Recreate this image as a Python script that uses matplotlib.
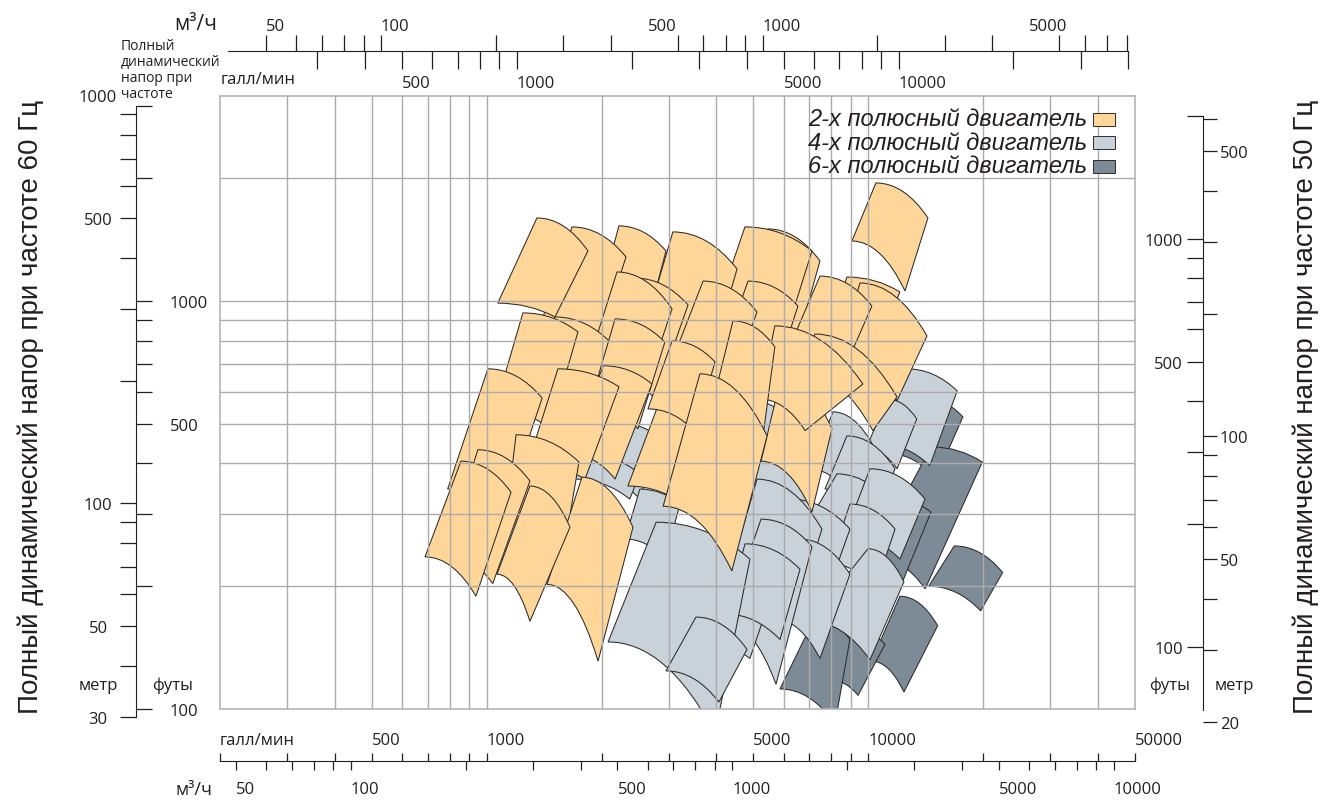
import numpy as np
import matplotlib
matplotlib.use("Agg")
import matplotlib.pyplot as plt
from matplotlib.path import Path
from matplotlib.patches import PathPatch, Rectangle
from matplotlib.ticker import FixedLocator, FuncFormatter, NullLocator

plt.rcParams["font.family"] = ["Open Sans", "DejaVu Sans"]

# pump ranges, corners: top-left, top-right, bottom-right, bottom-left
# (flow US gal/min, head ft, 60 Hz)
pumps_6pole = [
    (13300, 590, 17700, 520, 15000, 366, 11400, 422),
    (14600, 439, 19900, 403, 14100, 197, 10300, 237),
    (12250, 323, 14600, 304, 11300, 169, 9500, 186),
    (16800, 251, 22500, 216, 19700, 174, 14400, 200),
    (12100, 189, 15200, 160, 12400, 110, 10200, 131),
    (8690, 161, 11060, 144, 9400, 108, 7935, 118),
    (7250, 168, 8950, 148, 8180, 92, 5870, 112),
]
pumps_4pole = [
    (12600, 682, 17100, 602, 14500, 395, 10700, 446),
    (11200, 575, 13400, 514, 11900, 388, 9860, 434),
    (8080, 535, 10860, 399, 9630, 292, 7030, 388),
    (8790, 467, 11750, 388, 10400, 292, 7700, 346),
    (8280, 377, 12250, 292, 10100, 236, 7030, 292),
    (10100, 388, 14080, 327, 12107, 233, 8690, 268),
    (8953, 318, 11750, 276, 10410, 197, 7935, 227),
    (9980, 247, 12400, 205, 10100, 132, 7030, 164),
    (4750, 575, 6230, 514, 5520, 388, 4340, 434),
    (5200, 422, 7250, 366, 6230, 254, 4610, 292),
    (6233, 327, 8953, 276, 7700, 186, 5524, 214),
    (5110, 366, 7560, 276, 6620, 186, 4480, 240),
    (6620, 261, 8950, 214, 7470, 133, 5700, 166),
    (5235, 292, 7120, 250, 5730, 115, 4215, 163),
    (4087, 233, 5695, 202, 4896, 133, 3515, 148),
    (4754, 254, 6623, 220, 5870, 148, 4215, 171),
    (2300, 500, 2845, 459, 2520, 327, 1980, 366),
    (1810, 422, 2520, 377, 2370, 327, 1700, 366),
    (2520, 346, 3210, 318, 2933, 233, 2304, 261),
    (2780, 287, 4896, 233, 3965, 87, 2080, 146),
    (3535, 168, 4810, 140, 4060, 104, 2950, 124),
]
pumps_2pole = [
    (10470, 1947, 14330, 1598, 12480, 1058, 9060, 1403),
    (5460, 1502, 7470, 1254, 6233, 682, 4475, 807),
    (4750, 1519, 7120, 1326, 5695, 682, 3734, 785),
    (3075, 1477, 4530, 1198, 3734, 644, 2522, 785),
    (2220, 1528, 2950, 1326, 2448, 682, 1842, 785),
    (1673, 1519, 2318, 1282, 1865, 682, 1347, 807),
    (1354, 1598, 1842, 1326, 1510, 914, 1069, 988),
    (8790, 1145, 12100, 1052, 11260, 894, 8320, 978),
    (9510, 1107, 14250, 821, 11890, 569, 8430, 754),
    (7470, 1151, 10220, 972, 8840, 713, 6430, 830),
    (4840, 1119, 6540, 972, 5365, 544, 3892, 626),
    (3690, 1119, 5110, 940, 4136, 544, 2933, 644),
    (2450, 1138, 3370, 978, 2761, 575, 1982, 682),
    (2195, 1178, 3060, 956, 2522, 559, 1810, 663),
    (1510, 914, 2130, 785, 1756, 459, 1237, 529),
    (1244, 935, 1734, 840, 1465, 486, 1051, 544),
    (7250, 830, 11890, 582, 10280, 481, 6620, 674),
    (5900, 648, 8030, 486, 7120, 304, 5235, 405),
    (5690, 869, 9680, 626, 6830, 481, 5200, 575),
    (4420, 894, 5690, 772, 5203, 410, 3734, 472),
    (3075, 694, 4215, 599, 3410, 309, 2345, 352),
    (3060, 798, 3965, 709, 3515, 478, 2645, 544),
    (2170, 904, 2930, 793, 2490, 486, 1865, 559),
    (3620, 663, 5430, 467, 4390, 218, 2900, 314),
    (2020, 694, 2710, 626, 2170, 366, 1653, 422),
    (1537, 682, 2222, 616, 1810, 366, 1282, 399),
    (1007, 682, 1397, 578, 1097, 294, 790, 346),
    (1194, 470, 1745, 403, 1604, 254, 1118, 284),
    (1777, 370, 2417, 279, 1958, 131, 1439, 202),
    (1298, 352, 1653, 279, 1298, 164, 1064, 214),
    (948, 432, 1298, 362, 1037, 203, 777, 240),
    (856, 405, 1158, 340, 937, 189, 689, 236),
]

legend_labels = ["2-х полюсный двигатель", "4-х полюсный двигатель", "6-х полюсный двигатель"]

# scales
gpm_grid = [300, 400, 500, 600, 700, 800, 900, 1000, 2000, 3000, 4000, 5000,
            6000, 7000, 8000, 9000, 10000, 20000, 30000, 40000]
ft_grid = [200, 300, 400, 500, 600, 700, 800, 900, 1000, 2000]

gal_ticks_bottom = [200] + gpm_grid + [50000]
gal_labels_bottom = {200: "галл/мин", 500: "500", 1000: "1000", 5000: "5000",
                     10000: "10000", 50000: "50000"}
m3h_ticks_bottom = [50, 60, 70, 80, 90, 100, 200, 300, 400, 500, 600, 700, 800, 900,
                    1000, 2000, 3000, 4000, 5000, 6000, 7000, 8000, 9000, 10000]
m3h_labels_bottom = {50: "50", 100: "100", 500: "500", 1000: "1000", 5000: "5000",
                     10000: "10000"}
gal_ticks_top = gpm_grid
gal_labels_top = {500: "500", 1000: "1000", 5000: "5000", 10000: "10000"}
m3h_ticks_top = [50, 60, 70, 80, 90, 100, 200, 300, 400, 500, 600, 700, 800, 900,
                 1000, 2000, 3000, 4000, 5000, 6000, 7000, 8000, 9000]
m3h_labels_top = {50: "50", 100: "100", 500: "500", 1000: "1000", 5000: "5000"}
ft_ticks_left = [100, 200, 300, 400, 500, 600, 700, 800, 900, 1000, 2000, 3000]
ft_ticks_right = [100, 200, 300, 400, 500, 600, 700, 800, 900, 1000, 2000]
ft_labels = {100: "100", 500: "500", 1000: "1000"}
m_ticks_left = [30, 40, 50, 60, 70, 80, 90, 100, 200, 300, 400, 500, 600, 700, 800, 900, 1000]
m_labels_left = {30: "30", 50: "50", 100: "100", 500: "500", 1000: "1000"}
m_ticks_right = [20, 30, 40, 50, 60, 70, 80, 90, 100, 200, 300, 400, 500, 600]
m_labels_right = {20: "20", 50: "50", 100: "100", 500: "500"}

GPM_PER_M3H = 4.403
FT_PER_M = 3.281
FT_PER_M_LEFT = 3.19     # as drawn on the left scale
FLOW_50 = 1.2            # 60 Hz flow / 50 Hz flow
HEAD_50 = 1.42           # 60 Hz head / 50 Hz head, as drawn
GPM_MIN, GPM_MAX = 200, 50000
FT_MIN, FT_MAX = 100, 3180

C2, C4, C6 = "#FFD699", "#C9D1D9", "#7D8B97"
EDGE = "#2b2b2b"
INK = "#231f20"
GRID = "#ababab"

W, H = 1324, 803
fig = plt.figure(figsize=(W / 100, H / 100), dpi=100)


def box(x0, y0, x1, y1):
    return [x0 / W, 1 - y1 / H, (x1 - x0) / W, (y1 - y0) / H]


def fx(x):
    return x / W


def fy(y):
    return 1 - y / H


def tile_path(p):
    q = np.array(p[0::2], float)
    h = np.array(p[1::2], float)
    lq = np.log10(q)

    def ctrl(i, j):
        return 10 ** (lq[i] + 0.55 * (lq[j] - lq[i])), h[i]

    tl, tr, br, bl = zip(q, h)
    verts = [tl, ctrl(0, 1), tr, br, ctrl(3, 2), bl, tl, tl]
    codes = [Path.MOVETO, Path.CURVE3, Path.CURVE3, Path.LINETO,
             Path.CURVE3, Path.CURVE3, Path.LINETO, Path.CLOSEPOLY]
    return Path(verts, codes)


def scale_axis(axis, ticks, labels, ha=None, hidden=()):
    axis.set_major_locator(FixedLocator(ticks))
    axis.set_minor_locator(NullLocator())
    axis.set_major_formatter(FuncFormatter(lambda v, p: labels.get(int(round(v)), "")))
    for t, v in zip(axis.get_major_ticks(len(ticks)), ticks):
        if ha:
            t.label1.set_ha(ha)
            t.label2.set_ha(ha)
        if v in hidden:
            t.tick1line.set_visible(False)
            t.tick2line.set_visible(False)


def bare(a):
    a.patch.set_visible(False)
    for s in a.spines.values():
        s.set_visible(False)


def ft_at(y):
    f = (710 - y) / (710 - 97)
    return 10 ** (np.log10(FT_MIN) + f * (np.log10(FT_MAX) - np.log10(FT_MIN)))


tick_kw = dict(direction="out", width=0.9, colors=INK, labelsize=12)

# main chart
ax = fig.add_axes(box(220, 97, 1135, 710))
ax.set_xscale("log")
ax.set_yscale("log")
ax.set_xlim(GPM_MIN, GPM_MAX)
ax.set_ylim(FT_MIN, FT_MAX)
for colour, pumps in ((C6, pumps_6pole), (C4, pumps_4pole), (C2, pumps_2pole)):
    for p in pumps:
        ax.add_patch(PathPatch(tile_path(p), facecolor=colour, edgecolor=EDGE,
                               lw=0.75, zorder=1))
ax.xaxis.set_major_locator(FixedLocator(gpm_grid))
ax.xaxis.set_minor_locator(NullLocator())
ax.yaxis.set_major_locator(FixedLocator(ft_grid))
ax.yaxis.set_minor_locator(NullLocator())
ax.tick_params(which="both", length=0, labelbottom=False, labelleft=False)
ax.grid(True, color=GRID, lw=1.0)
ax.set_axisbelow(False)
for s in ax.spines.values():
    s.set_color("#b5b5b5")
    s.set_linewidth(1.2)

# left head scale (60 Hz): feet right of the line, metres left
axl = fig.add_axes(box(136, 80, 136, 740))
axl.set_yscale("log")
axl.set_ylim(ft_at(740), ft_at(80))
bare(axl)
axl.xaxis.set_visible(False)
axl.spines["right"].set_visible(True)
axl.spines["right"].set_bounds(30 * FT_PER_M_LEFT, 3000)
axl.spines["right"].set_color(INK)
axl.yaxis.tick_right()
scale_axis(axl.yaxis, ft_ticks_left, ft_labels)
axl.tick_params(axis="y", length=11.5, pad=13, **tick_kw)
secl = axl.secondary_yaxis("left", functions=(lambda f: f / FT_PER_M_LEFT,
                                              lambda m: m * FT_PER_M_LEFT))
bare(secl)
scale_axis(secl.yaxis, m_ticks_left, m_labels_left, ha="center", hidden={1000})
secl.tick_params(axis="y", length=11.5, pad=15.8, **tick_kw)

# right head scale (50 Hz): feet left of the line, metres right
axr = fig.add_axes(box(1203, 80, 1203, 740))
axr.set_yscale("log")
axr.set_ylim(ft_at(740) / HEAD_50, ft_at(80) / HEAD_50)
bare(axr)
axr.xaxis.set_visible(False)
axr.spines["left"].set_visible(True)
axr.spines["left"].set_bounds(70, 2000)
axr.spines["left"].set_color(INK)
scale_axis(axr.yaxis, ft_ticks_right, ft_labels)
axr.tick_params(axis="y", length=11.5, pad=2.9, **tick_kw)
secr = axr.secondary_yaxis("right", functions=(lambda f: f / FT_PER_M,
                                               lambda m: m * FT_PER_M))
bare(secr)
scale_axis(secr.yaxis, m_ticks_right, m_labels_right)
secr.tick_params(axis="y", length=10, pad=2.2, **tick_kw)

# bottom flow scale (60 Hz)
axb = fig.add_axes(box(220, 762, 1135, 762))
axb.set_xscale("log")
axb.set_xlim(GPM_MIN, GPM_MAX)
bare(axb)
axb.yaxis.set_visible(False)
axb.spines["top"].set_visible(True)
axb.spines["top"].set_color(INK)
axb.xaxis.tick_top()
scale_axis(axb.xaxis, gal_ticks_bottom, gal_labels_bottom, ha="left")
axb.tick_params(axis="x", length=5.8, pad=3.6, **tick_kw)
secb = axb.secondary_xaxis("bottom", functions=(lambda g: g / GPM_PER_M3H,
                                                lambda m: m * GPM_PER_M3H))
bare(secb)
scale_axis(secb.xaxis, m3h_ticks_bottom, m3h_labels_bottom, ha="left")
secb.tick_params(axis="x", length=6.5, pad=8, **tick_kw)

# top flow scale (50 Hz)
axt = fig.add_axes(box(220, 52, 1135, 52))
axt.set_xscale("log")
axt.set_xlim(GPM_MIN / FLOW_50, GPM_MAX / FLOW_50)
bare(axt)
axt.yaxis.set_visible(False)
axt.spines["bottom"].set_visible(True)
axt.spines["bottom"].set_bounds(175, 40000)
axt.spines["bottom"].set_color(INK)
scale_axis(axt.xaxis, gal_ticks_top, gal_labels_top, ha="left")
axt.tick_params(axis="x", length=13, pad=4.3, **tick_kw)
sect = axt.secondary_xaxis("top", functions=(lambda g: g / GPM_PER_M3H,
                                             lambda m: m * GPM_PER_M3H))
bare(sect)
scale_axis(sect.xaxis, m3h_ticks_top, m3h_labels_top, ha="left", hidden={500, 5000})
sect.tick_params(axis="x", length=11.5, pad=1, **tick_kw)

# texts
big = dict(rotation=90, ha="center", va="center", fontsize=20, color=INK,
           family=["Liberation Sans", "DejaVu Sans"])
fig.text(fx(31), fy(407), "Полный динамический напор при частоте 60 Гц", **big)
fig.text(fx(1306), fy(407), "Полный динамический напор при частоте 50 Гц", **big)
fig.text(fx(121), fy(39), "Полный\nдинамический\nнапор при\nчастоте", ha="left", va="top",
         fontsize=10, linespacing=1.1, color=INK)
fig.text(fx(221), fy(80), "галл/мин", ha="left", va="center", fontsize=12, color=INK)
fig.text(fx(217), fy(24), "м³/ч", ha="right", va="center", fontsize=15, color=INK)
fig.text(fx(212), fy(790), "м³/ч", ha="right", va="center", fontsize=13, color=INK)
fig.text(fx(98), fy(686), "метр", ha="center", va="center", fontsize=12, color=INK)
fig.text(fx(152), fy(686), "футы", ha="left", va="center", fontsize=12, color=INK)
fig.text(fx(1190), fy(686), "футы", ha="right", va="center", fontsize=12, color=INK)
fig.text(fx(1215), fy(686), "метр", ha="left", va="center", fontsize=12, color=INK)

for i, (lab, col) in enumerate(zip(legend_labels, (C2, C4, C6))):
    yc = 120 + 23.5 * i
    fig.text(fx(1087), fy(yc), lab, ha="right", va="center", fontsize=17, style="italic",
             color=INK, family=["Liberation Sans", "DejaVu Sans"])
    fig.add_artist(Rectangle((fx(1093), fy(yc + 6.5)), 22 / W, 13 / H,
                             transform=fig.transFigure, facecolor=col,
                             edgecolor=EDGE, lw=0.7))

fig.savefig("out.png", dpi=100)
